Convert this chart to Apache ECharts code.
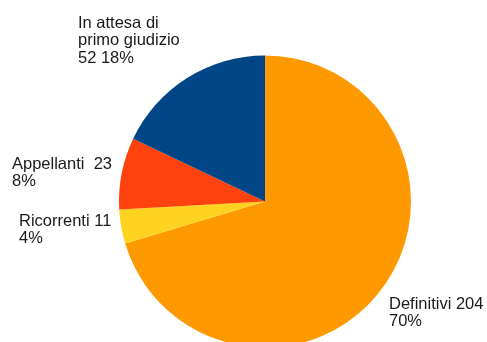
<!DOCTYPE html>
<html>
<head>
<meta charset="utf-8">
<script src="https://cdn.jsdelivr.net/npm/echarts@6/dist/echarts.min.js"></script>
<style>
  html, body { margin: 0; padding: 0; background: #ffffff; }
  #chart { width: 487px; height: 342px; }
</style>
</head>
<body>
<div id="chart"></div>
<script>
// Case categories, clockwise from 12 o'clock
const categories = ['Definitivi', 'Ricorrenti', 'Appellanti', 'In attesa di\nprimo giudizio'];
const counts = [204, 11, 23, 52];
const colors = ['#ff9900', '#ffd320', '#ff420e', '#004586'];

// Separators: name -> count, count -> percentage
const nameValueSep = [' ', ' ', '  ', '\n'];
const valuePctSep = ['\n', '\n', '\n', ' '];
// Top-left anchor of each slice's label
const labelAnchors = [[389, 295.6], [19, 212.3], [12, 155.6], [78, 14.6]];

const chart = echarts.init(document.getElementById('chart'), null, { renderer: 'canvas' });

chart.setOption({
  backgroundColor: '#ffffff',
  animation: false,
  series: [{
    type: 'pie',
    center: [265, 201.5],
    radius: 146,
    startAngle: 90,
    clockwise: true,
    percentPrecision: 0,
    silent: true,
    data: categories.map((name, i) => ({
      name: name,
      value: counts[i],
      itemStyle: { color: colors[i] }
    })),
    label: {
      show: true,
      position: 'outside',
      overflow: 'none',
      fontFamily: 'Liberation Sans, Arial, sans-serif',
      fontSize: 16.5,
      lineHeight: 17.5,
      color: '#1a1a1a',
      formatter: p => p.name + nameValueSep[p.dataIndex] + p.value +
        valuePctSep[p.dataIndex] + p.percent + '%'
    },
    labelLine: { show: false },
    labelLayout: p => ({
      x: labelAnchors[p.dataIndex][0],
      y: labelAnchors[p.dataIndex][1],
      align: 'left',
      verticalAlign: 'top',
      hideOverlap: false
    })
  }]
});
</script>
</body>
</html>
